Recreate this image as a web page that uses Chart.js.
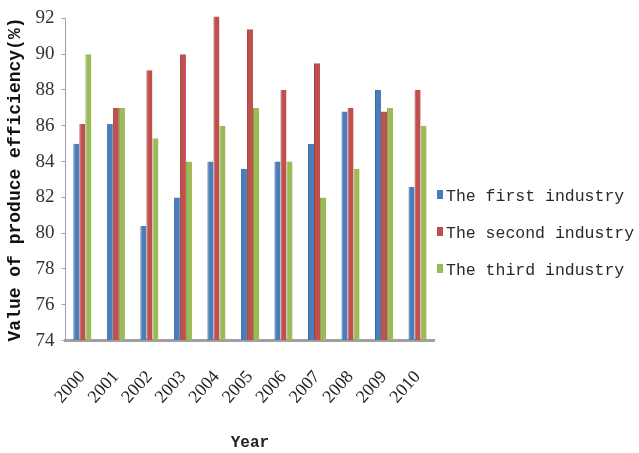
<!DOCTYPE html>
<html lang="en">
<head>
    <meta charset="UTF-8">
    <title>Value of produce efficiency</title>
    <script src="https://cdn.jsdelivr.net/npm/chart.js"></script>
    <style>
        body {
            margin: 0;
            padding: 0;
            background-color: white;
            position: relative;
            width: 639px;
            height: 453px;
            overflow: hidden;
        }
        .chart-container {
            position: absolute;
            left: 0;
            top: 0;
            width: 460px;
            height: 453px;
        }
        #legend {
            position: absolute;
            left: 437px;
            top: 187px;
            font-family: 'Liberation Mono', monospace;
            font-size: 16.5px;
            color: #2a2a2a;
        }
        .legend-item {
            height: 37px;
            display: flex;
            align-items: flex-start;
        }
        .legend-box {
            display: inline-block;
            width: 6px;
            height: 9px;
            margin-right: 3px;
            margin-top: 3px;
        }
    </style>
</head>
<body>
    <div class="chart-container">
        <canvas id="effChart"></canvas>
    </div>
    <div id="legend"></div>

    <script>
        const years = ['2000', '2001', '2002', '2003', '2004', '2005', '2006', '2007', '2008', '2009', '2010'];
        const firstIndustry  = [85, 86.1, 80.4, 82, 84, 83.6, 84, 85, 86.8, 88, 82.6];
        const secondIndustry = [86.1, 87, 89.1, 90, 92.1, 91.4, 88, 89.5, 87, 86.8, 88];
        const thirdIndustry  = [90, 87, 85.3, 84, 86, 87, 84, 82, 83.6, 87, 86];
        const seriesNames = ['The first industry', 'The second industry', 'The third industry'];
        const seriesColors = ['#4a7ebb', '#c0504d', '#9bbb59'];
        const edgeColors = ['#3a6aa3', '#a33f3c', '#7f9e43'];

        const ctx = document.getElementById('effChart').getContext('2d');

        const makeSet = (i, values) => ({
            label: seriesNames[i],
            data: values,
            base: 74,
            backgroundColor: seriesColors[i],
            borderColor: edgeColors[i],
            borderWidth: { left: 1 }
        });

        const chart = new Chart(ctx, {
            type: 'bar',
            data: {
                labels: years,
                datasets: [
                    makeSet(0, firstIndustry),
                    makeSet(1, secondIndustry),
                    makeSet(2, thirdIndustry)
                ]
            },
            options: {
                responsive: true,
                maintainAspectRatio: false,
                animation: false,
                clip: false,
                categoryPercentage: 0.54,
                barPercentage: 1,
                layout: { padding: { top: 17, left: 1, right: 8, bottom: 0 } },
                scales: {
                    x: {
                        grid: { display: false, drawTicks: false },
                        border: { color: '#a0a0a0', width: 3 },
                        ticks: {
                            color: '#222',
                            font: { family: 'Liberation Serif', size: 18 },
                            maxRotation: 48,
                            minRotation: 48,
                            padding: 26
                        },
                        title: {
                            display: true,
                            text: 'Year',
                            color: '#222',
                            font: { family: 'Liberation Mono', size: 16, weight: 'bold' },
                            padding: { top: 0, bottom: 0 }
                        }
                    },
                    y: {
                        min: 74,
                        max: 92,
                        ticks: {
                            stepSize: 2,
                            color: '#333',
                            font: { family: 'Liberation Serif', size: 19 },
                            padding: 7
                        },
                        grid: {
                            display: true,
                            drawOnChartArea: false,
                            drawTicks: true,
                            tickLength: 4,
                            color: '#a0a0a0'
                        },
                        border: { color: '#a0a0a0', width: 1 },
                        title: {
                            display: true,
                            text: 'Value of produce efficiency(%)',
                            color: '#111',
                            font: { family: 'Liberation Mono', size: 18, weight: 'bold' },
                            padding: { bottom: 2 }
                        }
                    }
                },
                plugins: {
                    legend: { display: false },
                    tooltip: { enabled: false }
                }
            }
        });

        // legend beside the chart, built from the datasets
        const legendEl = document.getElementById('legend');
        chart.data.datasets.forEach(ds => {
            const item = document.createElement('div');
            item.className = 'legend-item';
            const box = document.createElement('span');
            box.className = 'legend-box';
            box.style.backgroundColor = ds.backgroundColor;
            const txt = document.createElement('span');
            txt.textContent = ds.label;
            item.appendChild(box);
            item.appendChild(txt);
            legendEl.appendChild(item);
        });
    </script>
</body>
</html>
